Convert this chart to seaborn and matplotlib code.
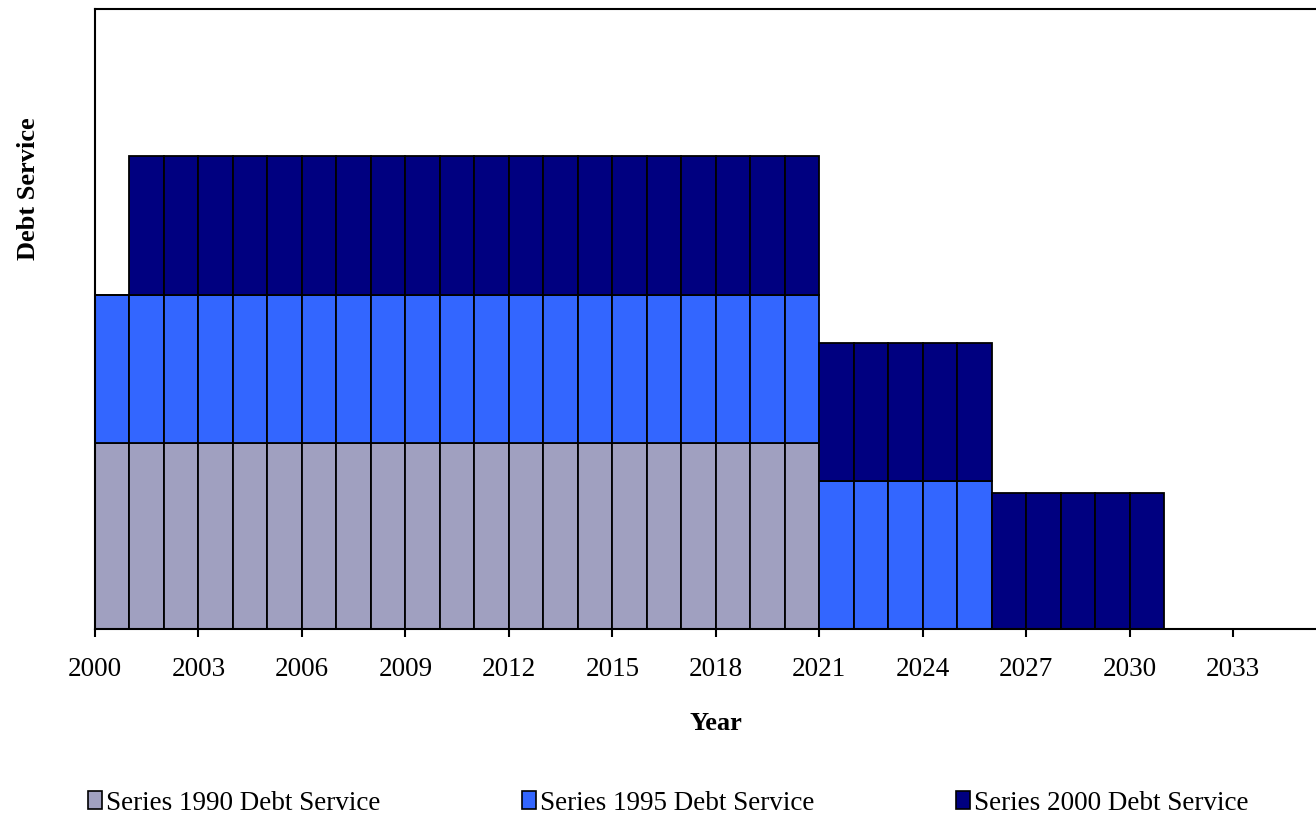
import numpy as np
import pandas as pd
import matplotlib
matplotlib.use("Agg")
import matplotlib.pyplot as plt
from matplotlib.patches import Patch
import seaborn as sns

# Annual debt service by bond series ($ millions), fiscal years 2000-2030
years = list(range(2000, 2031))
series_1990 = [9.3, 9.3, 9.3, 9.3, 9.3, 9.3, 9.3, 9.3, 9.3, 9.3, 9.3,
               9.3, 9.3, 9.3, 9.3, 9.3, 9.3, 9.3, 9.3, 9.3, 9.3,
               0, 0, 0, 0, 0, 0, 0, 0, 0, 0]
series_1995 = [7.4, 7.4, 7.4, 7.4, 7.4, 7.4, 7.4, 7.4, 7.4, 7.4, 7.4,
               7.4, 7.4, 7.4, 7.4, 7.4, 7.4, 7.4, 7.4, 7.4, 7.4,
               7.37, 7.37, 7.37, 7.37, 7.37, 0, 0, 0, 0, 0]
series_2000 = [0, 6.92, 6.92, 6.92, 6.92, 6.92, 6.92, 6.92, 6.92, 6.92, 6.92,
               6.92, 6.92, 6.92, 6.92, 6.92, 6.92, 6.92, 6.92, 6.92, 6.92,
               6.91, 6.91, 6.91, 6.91, 6.91, 6.77, 6.77, 6.77, 6.77, 6.77]

series_names = ["Series 1990 Debt Service",
                "Series 1995 Debt Service",
                "Series 2000 Debt Service"]
series_colors = ["#A0A0C0", "#3366FF", "#000080"]
tick_years = list(range(2000, 2034, 3))

df = pd.concat([
    pd.DataFrame({"Year": years, "Debt": vals, "Series": name})
    for name, vals in zip(series_names, [series_1990, series_1995, series_2000])
], ignore_index=True)

sns.set_theme(style="white")
plt.rcParams["font.family"] = ["Liberation Serif", "DejaVu Serif"]
plt.rcParams["text.color"] = "black"

fig = plt.figure(figsize=(13.16, 8.18), dpi=100)
ax = fig.add_axes([95 / 1316, 189 / 818, 1 - 95 / 1316, 620.5 / 818])

palette = dict(zip(series_names, series_colors))
sns.histplot(data=df, x="Year", weights="Debt", hue="Series",
             hue_order=series_names[::-1], palette=palette,
             multiple="stack", binwidth=1, binrange=(2000, 2031), element="bars",
             alpha=1, edgecolor="black", linewidth=1.3, legend=False, ax=ax)

ax.set_xlim(2000, 2035.4)
ax.set_ylim(0, 31)
ax.set_xticks(tick_years)
ax.set_xticklabels([str(y) for y in tick_years])
ax.set_yticks([])
ax.tick_params(axis="x", direction="out", length=6, width=1.5, pad=14,
               labelsize=19.5, colors="black", bottom=True)
for side in ["left", "bottom", "top"]:
    ax.spines[side].set_visible(True)
    ax.spines[side].set_color("black")
    ax.spines[side].set_linewidth(1.5)
ax.spines["right"].set_visible(False)
ax.grid(False)

ax.set_xlabel("Year", fontsize=19, fontweight="bold", color="black")
ax.xaxis.set_label_coords((716 - 95) / 1221, -0.133)
ax.set_ylabel("Debt Service", fontsize=19, fontweight="bold", color="black")
ax.yaxis.set_label_coords(-0.045, (629 - 189) / 620.5)

handles = [Patch(facecolor=c, edgecolor="black", linewidth=1.2) for c in series_colors]
fig.legend(handles, series_names, loc="center left",
           bbox_to_anchor=(88 / 1316, 1 - 803 / 818), ncol=3, frameon=False,
           fontsize=19.5, labelcolor="black", borderpad=0, borderaxespad=0,
           handlelength=0.5, handleheight=0.6, handletextpad=0.15,
           columnspacing=5.25)

fig.savefig("out.png", dpi=100)
